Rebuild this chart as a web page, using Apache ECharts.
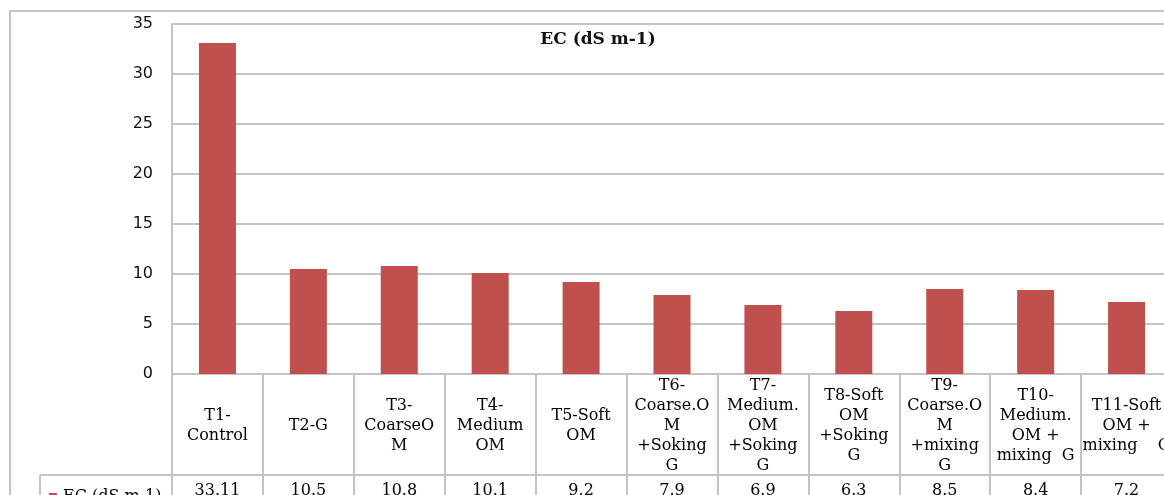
<!DOCTYPE html>
<html>
<head>
<meta charset="utf-8">
<script src="https://cdn.jsdelivr.net/npm/echarts@6/dist/echarts.min.js"></script>
<style>
  html, body { margin: 0; padding: 0; background: #fff; overflow: hidden; }
  #chart { width: 1200px; height: 495px; }
</style>
</head>
<body>
<div id="chart"></div>
<script>
// Treatments (wrapped as they appear in the data-table header row)
const categories = [
  'T1-\nControl',
  'T2-G',
  'T3-\nCoarseO\nM',
  'T4-\nMedium\nOM',
  'T5-Soft\nOM',
  'T6-\nCoarse.O\nM\n+Soking\nG',
  'T7-\nMedium.\nOM\n+Soking\nG',
  'T8-Soft\nOM\n+Soking\nG',
  'T9-\nCoarse.O\nM\n+mixing\nG',
  'T10-\nMedium.\nOM +\nmixing  G',
  'T11-Soft\nOM +\nmixing    G'
];
// Electrical conductivity per treatment
const ecValues = [33.11, 10.5, 10.8, 10.1, 9.2, 7.9, 6.9, 6.3, 8.5, 8.4, 7.2];
const seriesName = 'EC (dS m-1)';
const yTicks = { min: 0, max: 35, step: 5 };

const lineGray = '#c4c4c4';
const barRed = '#c0504d';
const serif = '"DejaVu Serif", serif';
const sans = '"DejaVu Sans", sans-serif';

const chart = echarts.init(document.getElementById('chart'), null, { renderer: 'canvas' });

chart.setOption({
  animation: false,
  backgroundColor: '#fff',
  title: {
    text: seriesName,
    left: 593,
    top: 26,
    textAlign: 'center',
    textStyle: { fontFamily: serif, fontSize: 17, fontWeight: 'bold', color: '#111' }
  },
  legend: {
    data: [seriesName],
    left: 44,
    top: 484,
    icon: 'rect',
    itemWidth: 8,
    itemHeight: 8,
    itemGap: 0,
    textStyle: { fontFamily: serif, fontSize: 16, color: '#000', padding: [0, 0, 0, 1] }
  },
  grid: { left: 172, top: 24, width: 1000, height: 350, containLabel: false, outerBoundsMode: 'none' },
  xAxis: [
    {
      // header row of the data table: category names between divider lines
      type: 'category',
      data: categories,
      position: 'bottom',
      boundaryGap: true,
      axisLine: { show: true, lineStyle: { color: lineGray, width: 2 } },
      axisTick: { show: true, interval: 0, length: 125, lineStyle: { color: lineGray, width: 2 } },
      axisLabel: {
        interval: 0,
        margin: 52,
        verticalAlign: 'middle',
        fontFamily: serif,
        fontSize: 16,
        lineHeight: 20,
        color: '#000'
      },
      splitLine: { show: false }
    },
    {
      // value row of the data table
      type: 'category',
      data: categories,
      position: 'bottom',
      axisLine: { show: false },
      axisTick: { show: false },
      axisLabel: {
        interval: 0,
        margin: 117,
        verticalAlign: 'middle',
        fontFamily: serif,
        fontSize: 16,
        color: '#000',
        formatter: (v, i) => String(ecValues[i])
      }
    }
  ],
  yAxis: {
    type: 'value',
    min: yTicks.min,
    max: yTicks.max,
    interval: yTicks.step,
    axisLine: { show: true, lineStyle: { color: lineGray, width: 2 } },
    axisTick: { show: false },
    axisLabel: { margin: 19, fontFamily: sans, fontSize: 16, color: '#111' },
    splitLine: { show: true, lineStyle: { color: lineGray, width: 2 } }
  },
  series: [
    {
      name: seriesName,
      type: 'bar',
      data: ecValues,
      barWidth: 37,
      itemStyle: { color: barRed }
    }
  ],
  graphic: [
    // outer chart frame
    { type: 'rect', shape: { x: 10, y: 11, width: 1220, height: 520 },
      style: { fill: 'none', stroke: lineGray, lineWidth: 2 }, silent: true },
    // data-table row divider and legend-cell border
    { type: 'line', shape: { x1: 40, y1: 475, x2: 1220, y2: 475 },
      style: { stroke: lineGray, lineWidth: 2 }, silent: true },
    { type: 'line', shape: { x1: 40, y1: 475, x2: 40, y2: 500 },
      style: { stroke: lineGray, lineWidth: 2 }, silent: true }
  ]
});
</script>
</body>
</html>
